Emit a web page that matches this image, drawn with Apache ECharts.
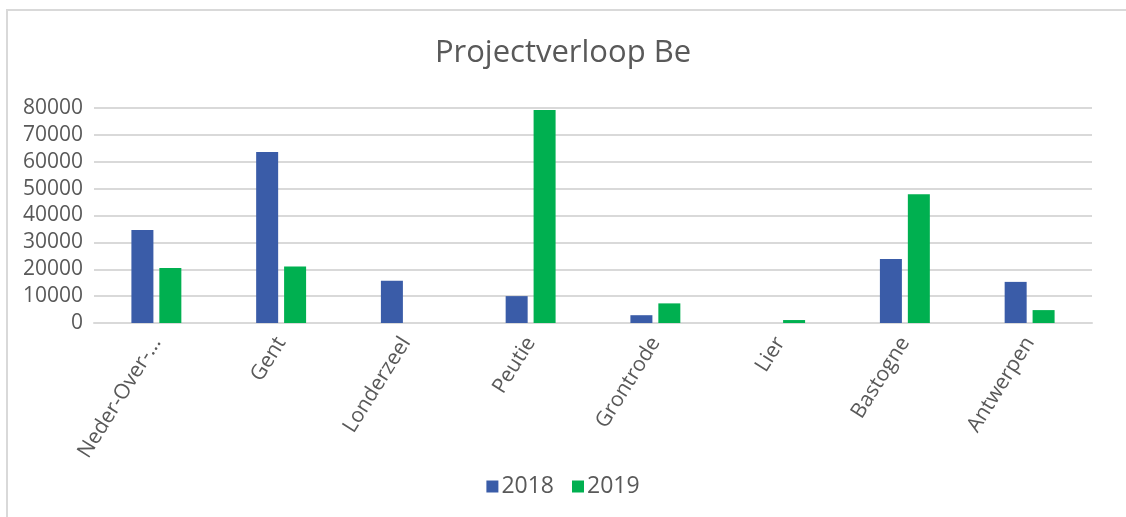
<!DOCTYPE html>
<html>
<head>
<meta charset="utf-8">
<script src="https://cdn.jsdelivr.net/npm/echarts@6/dist/echarts.min.js"></script>
<style>
  html, body { margin: 0; padding: 0; background: #fff; }
  #frame { position: absolute; left: 6px; top: 9px; width: 1120px; height: 508px;
           border-top: 2px solid #d9d9d9; border-left: 2px solid #d9d9d9; box-sizing: border-box; }
  #main { position: absolute; left: 0; top: 0; width: 1126px; height: 517px; }
</style>
</head>
<body>
<div id="frame"></div>
<div id="main"></div>
<script>
// plaatsen en waarden per jaar
var plaatsen = ['Neder-Over-...', 'Gent', 'Londerzeel', 'Peutie', 'Grontrode', 'Lier', 'Bastogne', 'Antwerpen'];
var waarden2018 = [34600, 63600, 15700, 10000, 2900, 0, 23800, 15300];
var waarden2019 = [20500, 21000, 0, 79300, 7300, 1100, 47900, 4800];
var yTicks = [0, 10000, 20000, 30000, 40000, 50000, 60000, 70000, 80000];

var grijs = '#595959';
var myChart = echarts.init(document.getElementById('main'));
myChart.setOption({
    animation: false,
    textStyle: { fontFamily: 'Open Sans' },
    title: {
        text: 'Projectverloop Be',
        left: 'center',
        top: 33,
        textStyle: { fontSize: 31, fontWeight: 'normal', color: grijs, fontFamily: 'Open Sans' }
    },
    legend: {
        bottom: 14,
        left: 'center',
        itemWidth: 12,
        itemHeight: 12,
        itemGap: 18,
        icon: 'rect',
        textStyle: { fontSize: 23, color: grijs, padding: [0, 0, 0, -2] },
        data: ['2018', '2019']
    },
    grid: { left: 94, right: 34, top: 108, height: 215, containLabel: false },
    xAxis: {
        type: 'category',
        data: plaatsen,
        axisLine: { lineStyle: { color: '#d9d9d9', width: 2 } },
        axisTick: { show: false },
        axisLabel: { rotate: 58, fontSize: 21, color: grijs, margin: 16, interval: 0 }
    },
    yAxis: {
        type: 'value',
        min: yTicks[0],
        max: yTicks[yTicks.length - 1],
        interval: 10000,
        axisLine: { show: false },
        axisTick: { show: false },
        splitLine: { lineStyle: { color: '#d9d9d9', width: 2 } },
        axisLabel: { fontSize: 21, color: grijs, margin: 11, formatter: function (v) { return String(v); } }
    },
    series: [
        { name: '2018', type: 'bar', data: waarden2018, barWidth: 22, barGap: '27%',
          itemStyle: { color: '#3a5ca8' } },
        { name: '2019', type: 'bar', data: waarden2019, barWidth: 22,
          itemStyle: { color: '#00b050' } }
    ]
});
</script>
</body>
</html>
